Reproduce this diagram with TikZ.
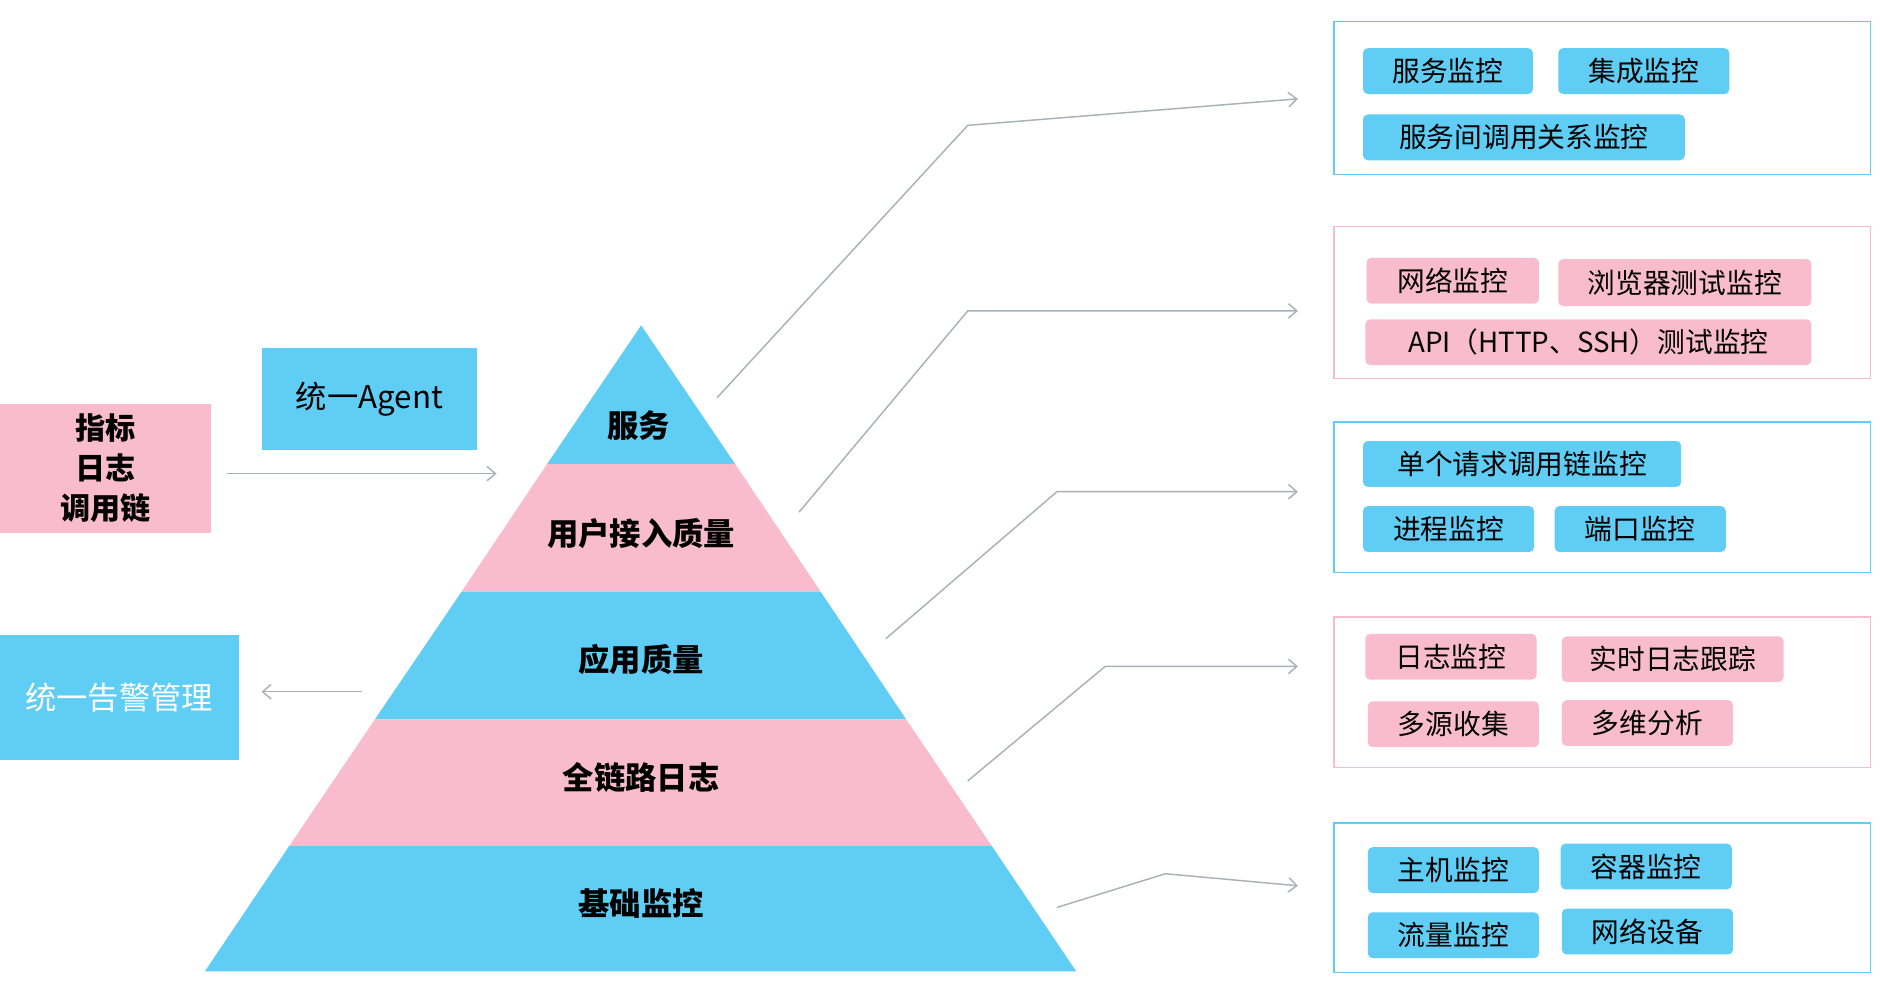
\documentclass[tikz,border=0pt]{standalone}
\usepackage{fontspec}
\setmainfont{Noto Sans CJK SC}
\usetikzlibrary{arrows.meta}
\definecolor{cb}{HTML}{5FCDF4}
\definecolor{cp}{HTML}{F9BBCE}
\definecolor{cg}{HTML}{A8B0B8}
\tikzset{x=1pt,y=-1pt,
 conn/.style={cg,line width=1.2pt,-{Straight Barb[length=7pt,width=12pt]}},
 frame/.style={line width=1.2pt,fill=white},
 lab/.style={font=\fontsize{26}{28}\selectfont\bfseries,text=black},
 tg/.style={rounded corners=4pt,inner sep=0pt,font=\fontsize{23}{25}\selectfont}}
\newcommand\mytag[7]{\node[tg,fill=#7,minimum width=#4-#2,minimum height=#5-#3] (#1) at ({(#2+#4)/2},{(#3+#5)/2}) {#6};}
\begin{document}
\begin{tikzpicture}
\useasboundingbox (0,0) rectangle (1560,822);
% pyramid
\fill[cb] (532,270) -- (610,385) -- (454,385) -- cycle;
\fill[cp] (454,385) -- (610,385) -- (681,491) -- (383,491) -- cycle;
\fill[cb] (383,491) -- (681,491) -- (752,597) -- (311,597) -- cycle;
\fill[cp] (311,597) -- (752,597) -- (823,702) -- (240,702) -- cycle;
\fill[cb] (240,702) -- (823,702) -- (893,806) -- (170,806) -- cycle;
\node[lab] (p1) at (530,353) {服务};
\node[lab] (p2) at (532,443) {用户接入质量};
\node[lab] (p3) at (532,547) {应用质量};
\node[lab] (p4) at (532,645) {全链路日志};
\node[lab] (p5) at (532,750) {基础监控};
% left
\node[fill=cp,minimum width=175,minimum height=107,inner sep=0,align=center,font=\fontsize{25}{33}\selectfont\bfseries] (src) at (87.5,388.5) {指标\\日志\\调用链};
\node[fill=cb,minimum width=179,minimum height=84,inner sep=0,font=\fontsize{26}{28}\selectfont] (ag) at (306.5,331) {统一Agent};
\coordinate (a1) at (188,393); \coordinate (a2) at (412,393);
\draw[conn] (a1) -- (a2);
\node[fill=cb,minimum width=198,minimum height=104,inner sep=0,text=white,font=\fontsize{26}{28}\selectfont] (al) at (99,579) {统一告警管理};
\coordinate (b1) at (300,574); \coordinate (b2) at (217,574);
\draw[conn] (b1) -- (b2);
% frames
\draw[frame,draw=cb] (1107,18) rectangle (1552,145);
\draw[frame,draw=cp] (1107,188) rectangle (1552,314);
\draw[frame,draw=cb] (1107,350) rectangle (1552,475);
\draw[frame,draw=cp] (1107,512) rectangle (1552,637);
\draw[frame,draw=cb] (1107,683) rectangle (1552,807);
% connectors
\coordinate (c1) at (595,330); \coordinate (e1) at (1077,82);
\draw[conn] (c1) -- (803,104) -- (e1);
\coordinate (c2) at (663,425); \coordinate (e2) at (1077,258);
\draw[conn] (c2) -- (803,258) -- (e2);
\coordinate (c3) at (735,530); \coordinate (e3) at (1077,408);
\draw[conn] (c3) -- (877,408) -- (e3);
\coordinate (c4) at (803,648); \coordinate (e4) at (1077,553);
\draw[conn] (c4) -- (917,553) -- (e4);
\coordinate (c5) at (877,753); \coordinate (e5) at (1077,735);
\draw[conn] (c5) -- (967,725) -- (e5);
% tags
\mytag{t1}{1131}{40}{1272}{78}{服务监控}{cb}
\mytag{t2}{1293}{40}{1435}{78}{集成监控}{cb}
\mytag{t3}{1131}{95}{1398}{133}{服务间调用关系监控}{cb}
\mytag{t4}{1134}{214}{1277}{252}{网络监控}{cp}
\mytag{t5}{1293}{215}{1503}{254}{浏览器测试监控}{cp}
\mytag{t6}{1133}{265}{1503}{303}{API（HTTP、SSH）测试监控}{cp}
\mytag{t7}{1131}{366}{1395}{404}{单个请求调用链监控}{cb}
\mytag{t8}{1131}{420}{1273}{458}{进程监控}{cb}
\mytag{t9}{1290}{420}{1432}{458}{端口监控}{cb}
\mytag{t10}{1133}{526}{1275}{564}{日志监控}{cp}
\mytag{t11}{1296}{528}{1480}{566}{实时日志跟踪}{cp}
\mytag{t12}{1135}{582}{1277}{620}{多源收集}{cp}
\mytag{t13}{1296}{581}{1438}{619}{多维分析}{cp}
\mytag{t14}{1135}{703}{1277}{741}{主机监控}{cb}
\mytag{t15}{1295}{700}{1437}{738}{容器监控}{cb}
\mytag{t16}{1135}{757}{1277}{795}{流量监控}{cb}
\mytag{t17}{1296}{754}{1438}{792}{网络设备}{cb}
\end{tikzpicture}
\end{document}
